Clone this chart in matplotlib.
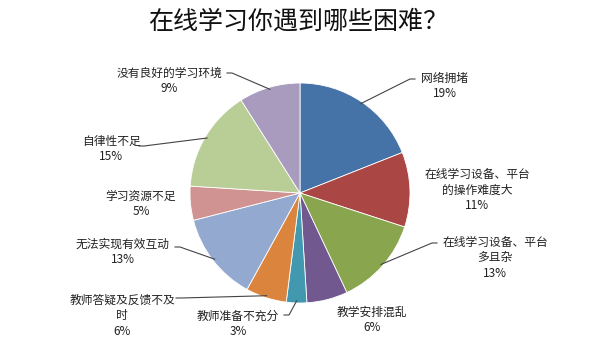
import numpy as np
import matplotlib
matplotlib.use("Agg")
import matplotlib.pyplot as plt

plt.rcParams['font.family'] = ['Noto Sans CJK SC', 'DejaVu Sans']

title = '在线学习你遇到哪些困难？'
labels = ['网络拥堵', '在线学习设备、平台\n的操作难度大', '在线学习设备、平台\n多且杂',
          '教学安排混乱', '教师准备不充分', '教师答疑及反馈不及\n时', '无法实现有效互动',
          '学习资源不足', '自律性不足', '没有良好的学习环境']
shares = [19, 11, 13, 6, 3, 6, 13, 5, 15, 9]
colors = ['#4572A7', '#AA4643', '#89A54E', '#71588F', '#4198AF',
          '#DB843D', '#93A9CF', '#D19392', '#B9CD96', '#A99BBD']

# label centres and leader ends, in pixels from the top-left corner
text_pos = [(445, 86), (477, 190), (495, 258), (372, 320), (238, 324),
            (122, 316), (123, 252), (141, 204), (111, 149), (169, 81)]
leader_end = [(410, 79), None, (432, 243), None, (289, 315),
              (181, 298), (180, 247), None, (144, 146), (232, 73)]

W, H = 599, 338
cx, cy, r = 300, 193, 110

fig = plt.figure(figsize=(W / 100, H / 100), dpi=100)
ax = fig.add_axes([0, 0, 1, 1])

wedges, _ = ax.pie(shares, colors=colors, startangle=90, counterclock=False,
                   center=(cx, H - cy), radius=r,
                   wedgeprops=dict(linewidth=0.6, edgecolor='white'))
ax.set_xlim(0, W)
ax.set_ylim(0, H)
ax.set_aspect('equal')
ax.axis('off')

total = sum(shares)
cum = 0
for i, (lab, val) in enumerate(zip(labels, shares)):
    mid = 90 - (cum + val / 2) / total * 360
    cum += val
    tx, ty = text_pos[i]
    ax.text(tx, H - ty, f'{lab}\n{val}%', ha='center', va='center',
            fontsize=8.5, color='#222222', linespacing=1.25)
    end = leader_end[i]
    if end is None:
        continue
    ex = cx + (r - 2) * np.cos(np.radians(mid))
    ey = H - cy + (r - 2) * np.sin(np.radians(mid))
    px, py = end
    tail = 5 if px < cx else -5
    ax.plot([ex, px, px - tail], [ey, H - py, H - py], color='#444444', lw=0.8)

fig.text(0.497, 1 - 22 / H, title, ha='center', va='center', fontsize=18, color='#111111')

fig.savefig('out.png', dpi=100, facecolor='white')
